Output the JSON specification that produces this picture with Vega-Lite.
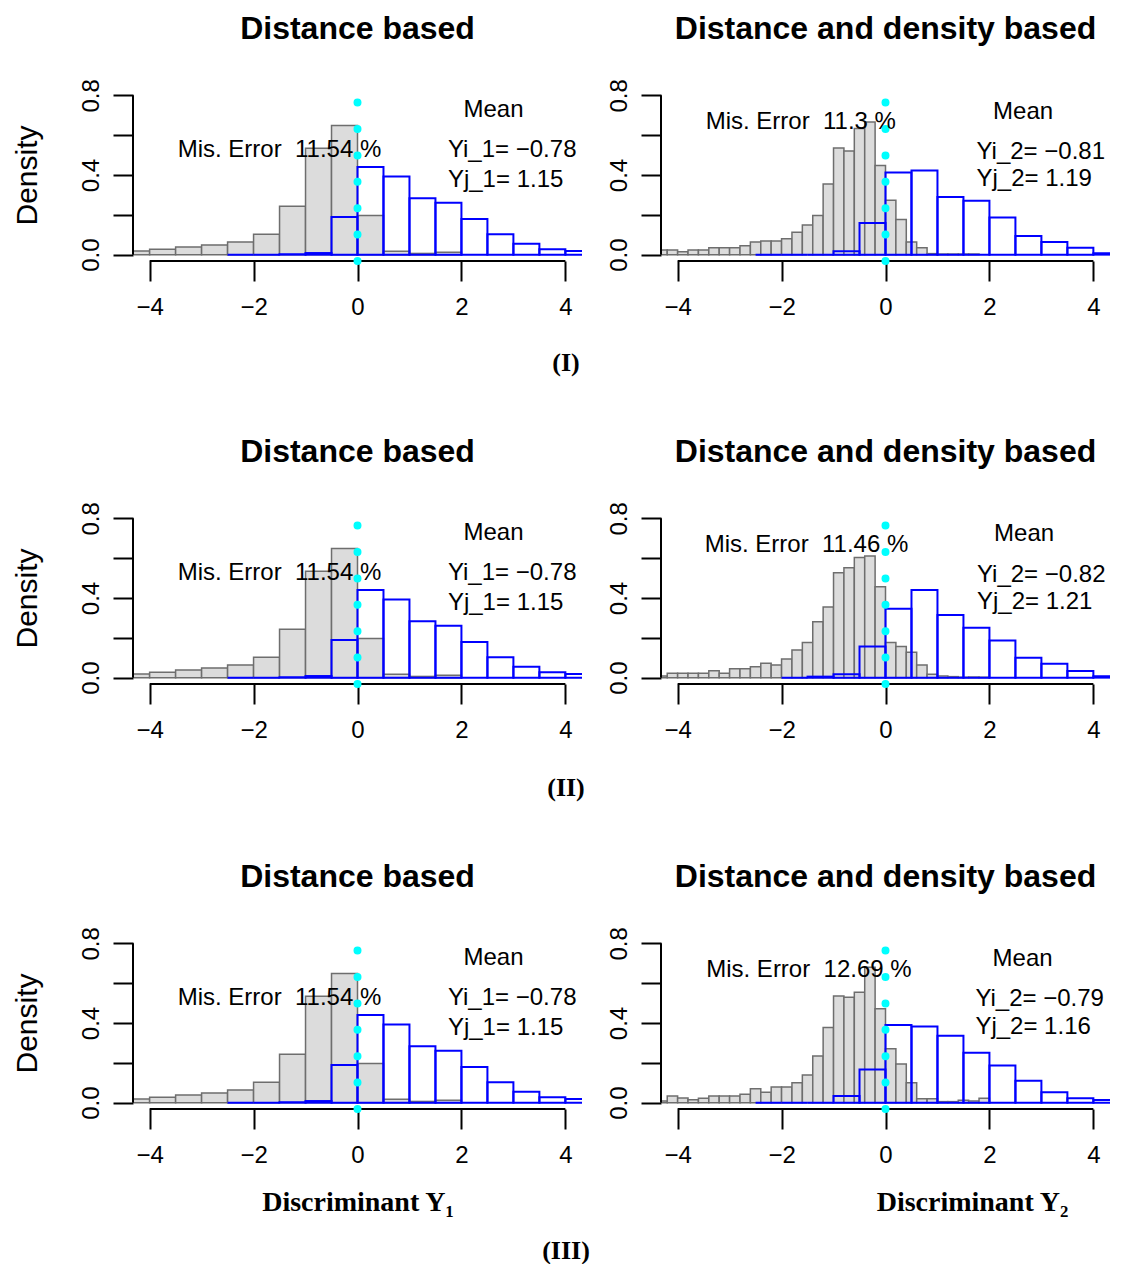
{
"$schema": "https://vega.github.io/schema/vega-lite/v6.json",
"padding": {"left": 11, "top": 12, "right": 0, "bottom": 0},
"background": "white",
"config": {"view": {"stroke": null}},
"datasets": {
"dist": [
{"c":"i","a":-4.5,"b":-4,"d":0.018},{"c":"i","a":-4,"b":-3.5,"d":0.027},{"c":"i","a":-3.5,"b":-3,"d":0.038},{"c":"i","a":-3,"b":-2.5,"d":0.049},{"c":"i","a":-2.5,"b":-2,"d":0.064},{"c":"i","a":-2,"b":-1.5,"d":0.102},{"c":"i","a":-1.5,"b":-1,"d":0.243},{"c":"i","a":-1,"b":-0.5,"d":0.534},{"c":"i","a":-0.5,"b":0,"d":0.649},{"c":"i","a":0,"b":0.5,"d":0.197},{"c":"i","a":0.5,"b":1,"d":0.017},{"c":"i","a":1,"b":1.5,"d":0.006},{"c":"i","a":1.5,"b":2,"d":0.012},
{"c":"j","a":-2.5,"b":-2,"d":0},{"c":"j","a":-2,"b":-1.5,"d":0},{"c":"j","a":-1.5,"b":-1,"d":0.002},{"c":"j","a":-1,"b":-0.5,"d":0.008},{"c":"j","a":-0.5,"b":0,"d":0.189},{"c":"j","a":0,"b":0.5,"d":0.44},{"c":"j","a":0.5,"b":1,"d":0.393},{"c":"j","a":1,"b":1.5,"d":0.283},{"c":"j","a":1.5,"b":2,"d":0.261},{"c":"j","a":2,"b":2.5,"d":0.179},{"c":"j","a":2.5,"b":3,"d":0.102},{"c":"j","a":3,"b":3.5,"d":0.055},{"c":"j","a":3.5,"b":4,"d":0.027},{"c":"j","a":4,"b":4.5,"d":0.018}
],
"dd1": [
{"c":"i","a":-4.4,"b":-4.2,"d":0.023},{"c":"i","a":-4.2,"b":-4.0,"d":0.023},{"c":"i","a":-4.0,"b":-3.8,"d":0.015},{"c":"i","a":-3.8,"b":-3.6,"d":0.023},{"c":"i","a":-3.6,"b":-3.4,"d":0.023},{"c":"i","a":-3.4,"b":-3.2,"d":0.035},{"c":"i","a":-3.2,"b":-3.0,"d":0.035},{"c":"i","a":-3.0,"b":-2.8,"d":0.035},{"c":"i","a":-2.8,"b":-2.6,"d":0.045},{"c":"i","a":-2.6,"b":-2.4,"d":0.064},{"c":"i","a":-2.4,"b":-2.2,"d":0.069},{"c":"i","a":-2.2,"b":-2.0,"d":0.069},{"c":"i","a":-2.0,"b":-1.8,"d":0.08},{"c":"i","a":-1.8,"b":-1.6,"d":0.112},{"c":"i","a":-1.6,"b":-1.4,"d":0.149},{"c":"i","a":-1.4,"b":-1.2,"d":0.196},{"c":"i","a":-1.2,"b":-1.0,"d":0.355},{"c":"i","a":-1.0,"b":-0.8,"d":0.536},{"c":"i","a":-0.8,"b":-0.6,"d":0.52},{"c":"i","a":-0.6,"b":-0.4,"d":0.633},{"c":"i","a":-0.4,"b":-0.2,"d":0.666},{"c":"i","a":-0.2,"b":0,"d":0.448},{"c":"i","a":0,"b":0.2,"d":0.273},{"c":"i","a":0.2,"b":0.4,"d":0.176},{"c":"i","a":0.4,"b":0.6,"d":0.064},{"c":"i","a":0.6,"b":0.8,"d":0.035},{"c":"i","a":0.8,"b":1.0,"d":0.005},{"c":"i","a":1.0,"b":1.2,"d":0.003},{"c":"i","a":1.2,"b":1.4,"d":0.003},{"c":"i","a":1.4,"b":1.6,"d":0.003},{"c":"i","a":1.6,"b":1.8,"d":0.003},
{"c":"j","a":-2.5,"b":-2,"d":0},{"c":"j","a":-2,"b":-1.5,"d":0},{"c":"j","a":-1.5,"b":-1,"d":0},{"c":"j","a":-1,"b":-0.5,"d":0.017},{"c":"j","a":-0.5,"b":0,"d":0.159},{"c":"j","a":0,"b":0.5,"d":0.412},{"c":"j","a":0.5,"b":1,"d":0.423},{"c":"j","a":1,"b":1.5,"d":0.29},{"c":"j","a":1.5,"b":2,"d":0.271},{"c":"j","a":2,"b":2.5,"d":0.187},{"c":"j","a":2.5,"b":3,"d":0.094},{"c":"j","a":3,"b":3.5,"d":0.064},{"c":"j","a":3.5,"b":4,"d":0.035},{"c":"j","a":4,"b":4.5,"d":0.007}
],
"dd2": [
{"c":"i","a":-4.4,"b":-4.2,"d":0.008},{"c":"i","a":-4.2,"b":-4.0,"d":0.022},{"c":"i","a":-4.0,"b":-3.8,"d":0.022},{"c":"i","a":-3.8,"b":-3.6,"d":0.022},{"c":"i","a":-3.6,"b":-3.4,"d":0.022},{"c":"i","a":-3.4,"b":-3.2,"d":0.035},{"c":"i","a":-3.2,"b":-3.0,"d":0.022},{"c":"i","a":-3.0,"b":-2.8,"d":0.044},{"c":"i","a":-2.8,"b":-2.6,"d":0.044},{"c":"i","a":-2.6,"b":-2.4,"d":0.055},{"c":"i","a":-2.4,"b":-2.2,"d":0.072},{"c":"i","a":-2.2,"b":-2.0,"d":0.064},{"c":"i","a":-2.0,"b":-1.8,"d":0.094},{"c":"i","a":-1.8,"b":-1.6,"d":0.139},{"c":"i","a":-1.6,"b":-1.4,"d":0.176},{"c":"i","a":-1.4,"b":-1.2,"d":0.281},{"c":"i","a":-1.2,"b":-1.0,"d":0.355},{"c":"i","a":-1.0,"b":-0.8,"d":0.527},{"c":"i","a":-0.8,"b":-0.6,"d":0.552},{"c":"i","a":-0.6,"b":-0.4,"d":0.603},{"c":"i","a":-0.4,"b":-0.2,"d":0.611},{"c":"i","a":-0.2,"b":0,"d":0.457},{"c":"i","a":0,"b":0.2,"d":0.176},{"c":"i","a":0.2,"b":0.4,"d":0.156},{"c":"i","a":0.4,"b":0.6,"d":0.127},{"c":"i","a":0.6,"b":0.8,"d":0.064},{"c":"i","a":0.8,"b":1.0,"d":0.017},{"c":"i","a":1.0,"b":1.2,"d":0.008},{"c":"i","a":1.2,"b":1.4,"d":0.005},{"c":"i","a":1.4,"b":1.6,"d":0.002},{"c":"i","a":1.6,"b":1.8,"d":0.003},{"c":"i","a":1.8,"b":2.0,"d":0.002},
{"c":"j","a":-2,"b":-1.5,"d":0},{"c":"j","a":-1.5,"b":-1,"d":0.005},{"c":"j","a":-1,"b":-0.5,"d":0.017},{"c":"j","a":-0.5,"b":0,"d":0.156},{"c":"j","a":0,"b":0.5,"d":0.346},{"c":"j","a":0.5,"b":1,"d":0.44},{"c":"j","a":1,"b":1.5,"d":0.315},{"c":"j","a":1.5,"b":2,"d":0.251},{"c":"j","a":2,"b":2.5,"d":0.187},{"c":"j","a":2.5,"b":3,"d":0.1},{"c":"j","a":3,"b":3.5,"d":0.07},{"c":"j","a":3.5,"b":4,"d":0.033},{"c":"j","a":4,"b":4.5,"d":0.007}
],
"dd3": [
{"c":"i","a":-4.4,"b":-4.2,"d":0.008},{"c":"i","a":-4.2,"b":-4.0,"d":0.033},{"c":"i","a":-4.0,"b":-3.8,"d":0.023},{"c":"i","a":-3.8,"b":-3.6,"d":0.015},{"c":"i","a":-3.6,"b":-3.4,"d":0.022},{"c":"i","a":-3.4,"b":-3.2,"d":0.033},{"c":"i","a":-3.2,"b":-3.0,"d":0.033},{"c":"i","a":-3.0,"b":-2.8,"d":0.033},{"c":"i","a":-2.8,"b":-2.6,"d":0.042},{"c":"i","a":-2.6,"b":-2.4,"d":0.07},{"c":"i","a":-2.4,"b":-2.2,"d":0.052},{"c":"i","a":-2.2,"b":-2.0,"d":0.079},{"c":"i","a":-2.0,"b":-1.8,"d":0.079},{"c":"i","a":-1.8,"b":-1.6,"d":0.1},{"c":"i","a":-1.6,"b":-1.4,"d":0.139},{"c":"i","a":-1.4,"b":-1.2,"d":0.234},{"c":"i","a":-1.2,"b":-1.0,"d":0.377},{"c":"i","a":-1.0,"b":-0.8,"d":0.536},{"c":"i","a":-0.8,"b":-0.6,"d":0.529},{"c":"i","a":-0.6,"b":-0.4,"d":0.554},{"c":"i","a":-0.4,"b":-0.2,"d":0.68},{"c":"i","a":-0.2,"b":0,"d":0.472},{"c":"i","a":0,"b":0.2,"d":0.271},{"c":"i","a":0.2,"b":0.4,"d":0.194},{"c":"i","a":0.4,"b":0.6,"d":0.1},{"c":"i","a":0.6,"b":0.8,"d":0.02},{"c":"i","a":0.8,"b":1.0,"d":0.02},{"c":"i","a":1.0,"b":1.2,"d":0.005},{"c":"i","a":1.2,"b":1.4,"d":0.005},{"c":"i","a":1.4,"b":1.6,"d":0.012},{"c":"i","a":1.6,"b":1.8,"d":0.008},{"c":"i","a":1.8,"b":2.0,"d":0.022},
{"c":"j","a":-2.5,"b":-2,"d":0},{"c":"j","a":-2,"b":-1.5,"d":0},{"c":"j","a":-1.5,"b":-1,"d":0},{"c":"j","a":-1,"b":-0.5,"d":0.033},{"c":"j","a":-0.5,"b":0,"d":0.166},{"c":"j","a":0,"b":0.5,"d":0.39},{"c":"j","a":0.5,"b":1,"d":0.383},{"c":"j","a":1,"b":1.5,"d":0.336},{"c":"j","a":1.5,"b":2,"d":0.251},{"c":"j","a":2,"b":2.5,"d":0.187},{"c":"j","a":2.5,"b":3,"d":0.11},{"c":"j","a":3,"b":3.5,"d":0.052},{"c":"j","a":3.5,"b":4,"d":0.022},{"c":"j","a":4,"b":4.5,"d":0.013}
],
"annL": [
{"x":-3.46,"y":0.525,"t":"Mis. Error\u00a0 11.54 %"},{"x":2.04,"y":0.726,"t":"Mean"},{"x":1.74,"y":0.525,"t":"Yi_1= \u22120.78"},{"x":1.74,"y":0.374,"t":"Yj_1= 1.15"}
],
"ann1": [
{"x":-3.46,"y":0.667,"t":"Mis. Error\u00a0 11.3 %"},{"x":2.07,"y":0.717,"t":"Mean"},{"x":1.75,"y":0.516,"t":"Yi_2= \u22120.81"},{"x":1.75,"y":0.382,"t":"Yj_2= 1.19"}
],
"ann2": [
{"x":-3.48,"y":0.667,"t":"Mis. Error\u00a0 11.46 %"},{"x":2.09,"y":0.72,"t":"Mean"},{"x":1.76,"y":0.516,"t":"Yi_2= \u22120.82"},{"x":1.76,"y":0.382,"t":"Yj_2= 1.21"}
],
"ann3": [
{"x":-3.45,"y":0.667,"t":"Mis. Error\u00a0 12.69 %"},{"x":2.06,"y":0.72,"t":"Mean"},{"x":1.73,"y":0.52,"t":"Yi_2= \u22120.79"},{"x":1.73,"y":0.38,"t":"Yj_2= 1.16"}
]
},
"spacing": 59,
"vconcat": [
{"spacing": 24,
 "title": {"text": "(I)", "orient": "bottom", "font": "Liberation Serif", "fontWeight": "bold", "fontSize": 26, "offset": 31, "dx": 5, "anchor": "middle", "color": "black"},
 "hconcat": [
 {"width": 449, "height": 172,
  "title": {"text": "Distance based", "font": "Liberation Sans", "fontSize": 32, "fontWeight": "bold", "offset": 1, "anchor": "middle", "frame": "group", "baseline": "bottom", "color": "black"},
  "layer": [
   {"data": {"name": "dist"}, "transform": [{"filter": "datum.c == 'i'"}],
    "mark": {"type": "rect", "clip": true, "fill": "#dcdcdc", "stroke": "#6e6e6e", "strokeWidth": 1.5},
    "encoding": {
     "x": {"field": "a", "type": "quantitative", "scale": {"domain": [-4.32, 4.32], "nice": false, "zero": false},
           "axis": {"values": [-4,-2,0,2,4], "format": "d", "domain": false, "grid": false, "tickSize": 20, "tickWidth": 2, "tickColor": "black", "labelFontSize": 24, "labelFont": "Liberation Sans", "labelColor": "black", "labelPadding": 14, "labelFlush": false, "labelOverlap": false, "title": null}},
     "x2": {"field": "b"},
     "y": {"field": "d", "type": "quantitative", "scale": {"domain": [-0.032, 0.832], "nice": false, "zero": false},
           "axis": {"values": [0,0.2,0.4,0.6,0.8], "labelExpr": "(datum.value == 0 || datum.value == 0.4 || datum.value == 0.8) ? format(datum.value, '.1f') : ''", "labelAngle": 270, "labelFontSize": 24, "labelFont": "Liberation Sans", "labelColor": "black", "labelPadding": 10, "labelOverlap": false, "labelFlush": false, "tickSize": 20, "tickWidth": 2, "tickColor": "black", "domain": false, "grid": false, "title": "Density", "titleFont": "Liberation Sans", "titleFontSize": 30, "titleFontWeight": "normal", "titleColor": "black", "titlePadding": 37}},
     "y2": {"datum": 0}}},
   {"data": {"name": "dist"}, "transform": [{"filter": "datum.c == 'j'"}],
    "mark": {"type": "rect", "clip": true, "fill": null, "fillOpacity": 0, "stroke": "#0000ff", "strokeWidth": 2},
    "encoding": {"x": {"field": "a", "type": "quantitative"}, "x2": {"field": "b"}, "y": {"field": "d", "type": "quantitative"}, "y2": {"datum": 0}}},
   {"data": {"values": [{}]}, "mark": {"type": "rule", "color": "black", "strokeWidth": 2}, "encoding": {"x": {"datum": -4}, "x2": {"datum": 4}, "y": {"datum": -0.032}}},
   {"data": {"values": [{}]}, "mark": {"type": "rule", "color": "black", "strokeWidth": 2}, "encoding": {"x": {"datum": -4.32}, "y": {"datum": 0}, "y2": {"datum": 0.8}}},
   {"data": {"values": [{}]}, "mark": {"type": "rule", "color": "#00ffff", "strokeWidth": 8, "strokeCap": "round", "strokeDash": [0.01, 26.39]}, "encoding": {"x": {"datum": 0}, "y": {"datum": -0.032}, "y2": {"datum": 0.832}}},
   {"data": {"name": "annL"}, "mark": {"type": "text", "align": "left", "baseline": "middle", "font": "Liberation Sans", "fontSize": 24, "color": "black"},
    "encoding": {"x": {"field": "x", "type": "quantitative"}, "y": {"field": "y", "type": "quantitative"}, "text": {"field": "t"}}}
  ]},
 {"width": 449, "height": 172,
  "title": {"text": "Distance and density based", "font": "Liberation Sans", "fontSize": 32, "fontWeight": "bold", "offset": 1, "anchor": "middle", "frame": "group", "baseline": "bottom", "color": "black"},
  "layer": [
   {"data": {"name": "dd1"}, "transform": [{"filter": "datum.c == 'i'"}],
    "mark": {"type": "rect", "clip": true, "fill": "#dcdcdc", "stroke": "#6e6e6e", "strokeWidth": 1.5},
    "encoding": {
     "x": {"field": "a", "type": "quantitative", "scale": {"domain": [-4.32, 4.32], "nice": false, "zero": false},
           "axis": {"values": [-4,-2,0,2,4], "format": "d", "domain": false, "grid": false, "tickSize": 20, "tickWidth": 2, "tickColor": "black", "labelFontSize": 24, "labelFont": "Liberation Sans", "labelColor": "black", "labelPadding": 14, "labelFlush": false, "labelOverlap": false, "title": null}},
     "x2": {"field": "b"},
     "y": {"field": "d", "type": "quantitative", "scale": {"domain": [-0.032, 0.832], "nice": false, "zero": false},
           "axis": {"values": [0,0.2,0.4,0.6,0.8], "labelExpr": "(datum.value == 0 || datum.value == 0.4 || datum.value == 0.8) ? format(datum.value, '.1f') : ''", "labelAngle": 270, "labelFontSize": 24, "labelFont": "Liberation Sans", "labelColor": "black", "labelPadding": 10, "labelOverlap": false, "labelFlush": false, "tickSize": 20, "tickWidth": 2, "tickColor": "black", "domain": false, "grid": false, "title": null}},
     "y2": {"datum": 0}}},
   {"data": {"name": "dd1"}, "transform": [{"filter": "datum.c == 'j'"}],
    "mark": {"type": "rect", "clip": true, "fill": null, "fillOpacity": 0, "stroke": "#0000ff", "strokeWidth": 2},
    "encoding": {"x": {"field": "a", "type": "quantitative"}, "x2": {"field": "b"}, "y": {"field": "d", "type": "quantitative"}, "y2": {"datum": 0}}},
   {"data": {"values": [{}]}, "mark": {"type": "rule", "color": "black", "strokeWidth": 2}, "encoding": {"x": {"datum": -4}, "x2": {"datum": 4}, "y": {"datum": -0.032}}},
   {"data": {"values": [{}]}, "mark": {"type": "rule", "color": "black", "strokeWidth": 2}, "encoding": {"x": {"datum": -4.32}, "y": {"datum": 0}, "y2": {"datum": 0.8}}},
   {"data": {"values": [{}]}, "mark": {"type": "rule", "color": "#00ffff", "strokeWidth": 8, "strokeCap": "round", "strokeDash": [0.01, 26.39]}, "encoding": {"x": {"datum": 0}, "y": {"datum": -0.032}, "y2": {"datum": 0.832}}},
   {"data": {"name": "ann1"}, "mark": {"type": "text", "align": "left", "baseline": "middle", "font": "Liberation Sans", "fontSize": 24, "color": "black"},
    "encoding": {"x": {"field": "x", "type": "quantitative"}, "y": {"field": "y", "type": "quantitative"}, "text": {"field": "t"}}}
  ]}
 ]},
{"spacing": 24,
 "title": {"text": "(II)", "orient": "bottom", "font": "Liberation Serif", "fontWeight": "bold", "fontSize": 26, "offset": 33, "dx": 5, "anchor": "middle", "color": "black"},
 "hconcat": [
 {"width": 449, "height": 172,
  "title": {"text": "Distance based", "font": "Liberation Sans", "fontSize": 32, "fontWeight": "bold", "offset": 1, "anchor": "middle", "frame": "group", "baseline": "bottom", "color": "black"},
  "layer": [
   {"data": {"name": "dist"}, "transform": [{"filter": "datum.c == 'i'"}],
    "mark": {"type": "rect", "clip": true, "fill": "#dcdcdc", "stroke": "#6e6e6e", "strokeWidth": 1.5},
    "encoding": {
     "x": {"field": "a", "type": "quantitative", "scale": {"domain": [-4.32, 4.32], "nice": false, "zero": false},
           "axis": {"values": [-4,-2,0,2,4], "format": "d", "domain": false, "grid": false, "tickSize": 20, "tickWidth": 2, "tickColor": "black", "labelFontSize": 24, "labelFont": "Liberation Sans", "labelColor": "black", "labelPadding": 14, "labelFlush": false, "labelOverlap": false, "title": null}},
     "x2": {"field": "b"},
     "y": {"field": "d", "type": "quantitative", "scale": {"domain": [-0.032, 0.832], "nice": false, "zero": false},
           "axis": {"values": [0,0.2,0.4,0.6,0.8], "labelExpr": "(datum.value == 0 || datum.value == 0.4 || datum.value == 0.8) ? format(datum.value, '.1f') : ''", "labelAngle": 270, "labelFontSize": 24, "labelFont": "Liberation Sans", "labelColor": "black", "labelPadding": 10, "labelOverlap": false, "labelFlush": false, "tickSize": 20, "tickWidth": 2, "tickColor": "black", "domain": false, "grid": false, "title": "Density", "titleFont": "Liberation Sans", "titleFontSize": 30, "titleFontWeight": "normal", "titleColor": "black", "titlePadding": 37}},
     "y2": {"datum": 0}}},
   {"data": {"name": "dist"}, "transform": [{"filter": "datum.c == 'j'"}],
    "mark": {"type": "rect", "clip": true, "fill": null, "fillOpacity": 0, "stroke": "#0000ff", "strokeWidth": 2},
    "encoding": {"x": {"field": "a", "type": "quantitative"}, "x2": {"field": "b"}, "y": {"field": "d", "type": "quantitative"}, "y2": {"datum": 0}}},
   {"data": {"values": [{}]}, "mark": {"type": "rule", "color": "black", "strokeWidth": 2}, "encoding": {"x": {"datum": -4}, "x2": {"datum": 4}, "y": {"datum": -0.032}}},
   {"data": {"values": [{}]}, "mark": {"type": "rule", "color": "black", "strokeWidth": 2}, "encoding": {"x": {"datum": -4.32}, "y": {"datum": 0}, "y2": {"datum": 0.8}}},
   {"data": {"values": [{}]}, "mark": {"type": "rule", "color": "#00ffff", "strokeWidth": 8, "strokeCap": "round", "strokeDash": [0.01, 26.39]}, "encoding": {"x": {"datum": 0}, "y": {"datum": -0.032}, "y2": {"datum": 0.832}}},
   {"data": {"name": "annL"}, "mark": {"type": "text", "align": "left", "baseline": "middle", "font": "Liberation Sans", "fontSize": 24, "color": "black"},
    "encoding": {"x": {"field": "x", "type": "quantitative"}, "y": {"field": "y", "type": "quantitative"}, "text": {"field": "t"}}}
  ]},
 {"width": 449, "height": 172,
  "title": {"text": "Distance and density based", "font": "Liberation Sans", "fontSize": 32, "fontWeight": "bold", "offset": 1, "anchor": "middle", "frame": "group", "baseline": "bottom", "color": "black"},
  "layer": [
   {"data": {"name": "dd2"}, "transform": [{"filter": "datum.c == 'i'"}],
    "mark": {"type": "rect", "clip": true, "fill": "#dcdcdc", "stroke": "#6e6e6e", "strokeWidth": 1.5},
    "encoding": {
     "x": {"field": "a", "type": "quantitative", "scale": {"domain": [-4.32, 4.32], "nice": false, "zero": false},
           "axis": {"values": [-4,-2,0,2,4], "format": "d", "domain": false, "grid": false, "tickSize": 20, "tickWidth": 2, "tickColor": "black", "labelFontSize": 24, "labelFont": "Liberation Sans", "labelColor": "black", "labelPadding": 14, "labelFlush": false, "labelOverlap": false, "title": null}},
     "x2": {"field": "b"},
     "y": {"field": "d", "type": "quantitative", "scale": {"domain": [-0.032, 0.832], "nice": false, "zero": false},
           "axis": {"values": [0,0.2,0.4,0.6,0.8], "labelExpr": "(datum.value == 0 || datum.value == 0.4 || datum.value == 0.8) ? format(datum.value, '.1f') : ''", "labelAngle": 270, "labelFontSize": 24, "labelFont": "Liberation Sans", "labelColor": "black", "labelPadding": 10, "labelOverlap": false, "labelFlush": false, "tickSize": 20, "tickWidth": 2, "tickColor": "black", "domain": false, "grid": false, "title": null}},
     "y2": {"datum": 0}}},
   {"data": {"name": "dd2"}, "transform": [{"filter": "datum.c == 'j'"}],
    "mark": {"type": "rect", "clip": true, "fill": null, "fillOpacity": 0, "stroke": "#0000ff", "strokeWidth": 2},
    "encoding": {"x": {"field": "a", "type": "quantitative"}, "x2": {"field": "b"}, "y": {"field": "d", "type": "quantitative"}, "y2": {"datum": 0}}},
   {"data": {"values": [{}]}, "mark": {"type": "rule", "color": "black", "strokeWidth": 2}, "encoding": {"x": {"datum": -4}, "x2": {"datum": 4}, "y": {"datum": -0.032}}},
   {"data": {"values": [{}]}, "mark": {"type": "rule", "color": "black", "strokeWidth": 2}, "encoding": {"x": {"datum": -4.32}, "y": {"datum": 0}, "y2": {"datum": 0.8}}},
   {"data": {"values": [{}]}, "mark": {"type": "rule", "color": "#00ffff", "strokeWidth": 8, "strokeCap": "round", "strokeDash": [0.01, 26.39]}, "encoding": {"x": {"datum": 0}, "y": {"datum": -0.032}, "y2": {"datum": 0.832}}},
   {"data": {"name": "ann2"}, "mark": {"type": "text", "align": "left", "baseline": "middle", "font": "Liberation Sans", "fontSize": 24, "color": "black"},
    "encoding": {"x": {"field": "x", "type": "quantitative"}, "y": {"field": "y", "type": "quantitative"}, "text": {"field": "t"}}}
  ]}
 ]},
{"spacing": 24,
 "title": {"text": "(III)", "orient": "bottom", "font": "Liberation Serif", "fontWeight": "bold", "fontSize": 26, "offset": 22, "dx": 5, "anchor": "middle", "color": "black"},
 "hconcat": [
 {"width": 449, "height": 172,
  "title": {"text": "Distance based", "font": "Liberation Sans", "fontSize": 32, "fontWeight": "bold", "offset": 1, "anchor": "middle", "frame": "group", "baseline": "bottom", "color": "black"},
  "layer": [
   {"data": {"name": "dist"}, "transform": [{"filter": "datum.c == 'i'"}],
    "mark": {"type": "rect", "clip": true, "fill": "#dcdcdc", "stroke": "#6e6e6e", "strokeWidth": 1.5},
    "encoding": {
     "x": {"field": "a", "type": "quantitative", "scale": {"domain": [-4.32, 4.32], "nice": false, "zero": false},
           "axis": {"values": [-4,-2,0,2,4], "format": "d", "domain": false, "grid": false, "tickSize": 20, "tickWidth": 2, "tickColor": "black", "labelFontSize": 24, "labelFont": "Liberation Sans", "labelColor": "black", "labelPadding": 14, "labelFlush": false, "labelOverlap": false, "title": "Discriminant Y\u2081", "titleFont": "Liberation Serif", "titleFontSize": 28, "titleFontWeight": "bold", "titleColor": "black", "titlePadding": 21}},
     "x2": {"field": "b"},
     "y": {"field": "d", "type": "quantitative", "scale": {"domain": [-0.032, 0.832], "nice": false, "zero": false},
           "axis": {"values": [0,0.2,0.4,0.6,0.8], "labelExpr": "(datum.value == 0 || datum.value == 0.4 || datum.value == 0.8) ? format(datum.value, '.1f') : ''", "labelAngle": 270, "labelFontSize": 24, "labelFont": "Liberation Sans", "labelColor": "black", "labelPadding": 10, "labelOverlap": false, "labelFlush": false, "tickSize": 20, "tickWidth": 2, "tickColor": "black", "domain": false, "grid": false, "title": "Density", "titleFont": "Liberation Sans", "titleFontSize": 30, "titleFontWeight": "normal", "titleColor": "black", "titlePadding": 37}},
     "y2": {"datum": 0}}},
   {"data": {"name": "dist"}, "transform": [{"filter": "datum.c == 'j'"}],
    "mark": {"type": "rect", "clip": true, "fill": null, "fillOpacity": 0, "stroke": "#0000ff", "strokeWidth": 2},
    "encoding": {"x": {"field": "a", "type": "quantitative"}, "x2": {"field": "b"}, "y": {"field": "d", "type": "quantitative"}, "y2": {"datum": 0}}},
   {"data": {"values": [{}]}, "mark": {"type": "rule", "color": "black", "strokeWidth": 2}, "encoding": {"x": {"datum": -4}, "x2": {"datum": 4}, "y": {"datum": -0.032}}},
   {"data": {"values": [{}]}, "mark": {"type": "rule", "color": "black", "strokeWidth": 2}, "encoding": {"x": {"datum": -4.32}, "y": {"datum": 0}, "y2": {"datum": 0.8}}},
   {"data": {"values": [{}]}, "mark": {"type": "rule", "color": "#00ffff", "strokeWidth": 8, "strokeCap": "round", "strokeDash": [0.01, 26.39]}, "encoding": {"x": {"datum": 0}, "y": {"datum": -0.032}, "y2": {"datum": 0.832}}},
   {"data": {"name": "annL"}, "mark": {"type": "text", "align": "left", "baseline": "middle", "font": "Liberation Sans", "fontSize": 24, "color": "black"},
    "encoding": {"x": {"field": "x", "type": "quantitative"}, "y": {"field": "y", "type": "quantitative"}, "text": {"field": "t"}}}
  ]},
 {"width": 449, "height": 172,
  "title": {"text": "Distance and density based", "font": "Liberation Sans", "fontSize": 32, "fontWeight": "bold", "offset": 1, "anchor": "middle", "frame": "group", "baseline": "bottom", "color": "black"},
  "layer": [
   {"data": {"name": "dd3"}, "transform": [{"filter": "datum.c == 'i'"}],
    "mark": {"type": "rect", "clip": true, "fill": "#dcdcdc", "stroke": "#6e6e6e", "strokeWidth": 1.5},
    "encoding": {
     "x": {"field": "a", "type": "quantitative", "scale": {"domain": [-4.32, 4.32], "nice": false, "zero": false},
           "axis": {"values": [-4,-2,0,2,4], "format": "d", "domain": false, "grid": false, "tickSize": 20, "tickWidth": 2, "tickColor": "black", "labelFontSize": 24, "labelFont": "Liberation Sans", "labelColor": "black", "labelPadding": 14, "labelFlush": false, "labelOverlap": false, "title": "Discriminant Y\u2082", "titleFont": "Liberation Serif", "titleFontSize": 28, "titleFontWeight": "bold", "titleColor": "black", "titlePadding": 21, "titleX": 311, "titleAlign": "center"}},
     "x2": {"field": "b"},
     "y": {"field": "d", "type": "quantitative", "scale": {"domain": [-0.032, 0.832], "nice": false, "zero": false},
           "axis": {"values": [0,0.2,0.4,0.6,0.8], "labelExpr": "(datum.value == 0 || datum.value == 0.4 || datum.value == 0.8) ? format(datum.value, '.1f') : ''", "labelAngle": 270, "labelFontSize": 24, "labelFont": "Liberation Sans", "labelColor": "black", "labelPadding": 10, "labelOverlap": false, "labelFlush": false, "tickSize": 20, "tickWidth": 2, "tickColor": "black", "domain": false, "grid": false, "title": null}},
     "y2": {"datum": 0}}},
   {"data": {"name": "dd3"}, "transform": [{"filter": "datum.c == 'j'"}],
    "mark": {"type": "rect", "clip": true, "fill": null, "fillOpacity": 0, "stroke": "#0000ff", "strokeWidth": 2},
    "encoding": {"x": {"field": "a", "type": "quantitative"}, "x2": {"field": "b"}, "y": {"field": "d", "type": "quantitative"}, "y2": {"datum": 0}}},
   {"data": {"values": [{}]}, "mark": {"type": "rule", "color": "black", "strokeWidth": 2}, "encoding": {"x": {"datum": -4}, "x2": {"datum": 4}, "y": {"datum": -0.032}}},
   {"data": {"values": [{}]}, "mark": {"type": "rule", "color": "black", "strokeWidth": 2}, "encoding": {"x": {"datum": -4.32}, "y": {"datum": 0}, "y2": {"datum": 0.8}}},
   {"data": {"values": [{}]}, "mark": {"type": "rule", "color": "#00ffff", "strokeWidth": 8, "strokeCap": "round", "strokeDash": [0.01, 26.39]}, "encoding": {"x": {"datum": 0}, "y": {"datum": -0.032}, "y2": {"datum": 0.832}}},
   {"data": {"name": "ann3"}, "mark": {"type": "text", "align": "left", "baseline": "middle", "font": "Liberation Sans", "fontSize": 24, "color": "black"},
    "encoding": {"x": {"field": "x", "type": "quantitative"}, "y": {"field": "y", "type": "quantitative"}, "text": {"field": "t"}}}
  ]}
 ]}
]
}
